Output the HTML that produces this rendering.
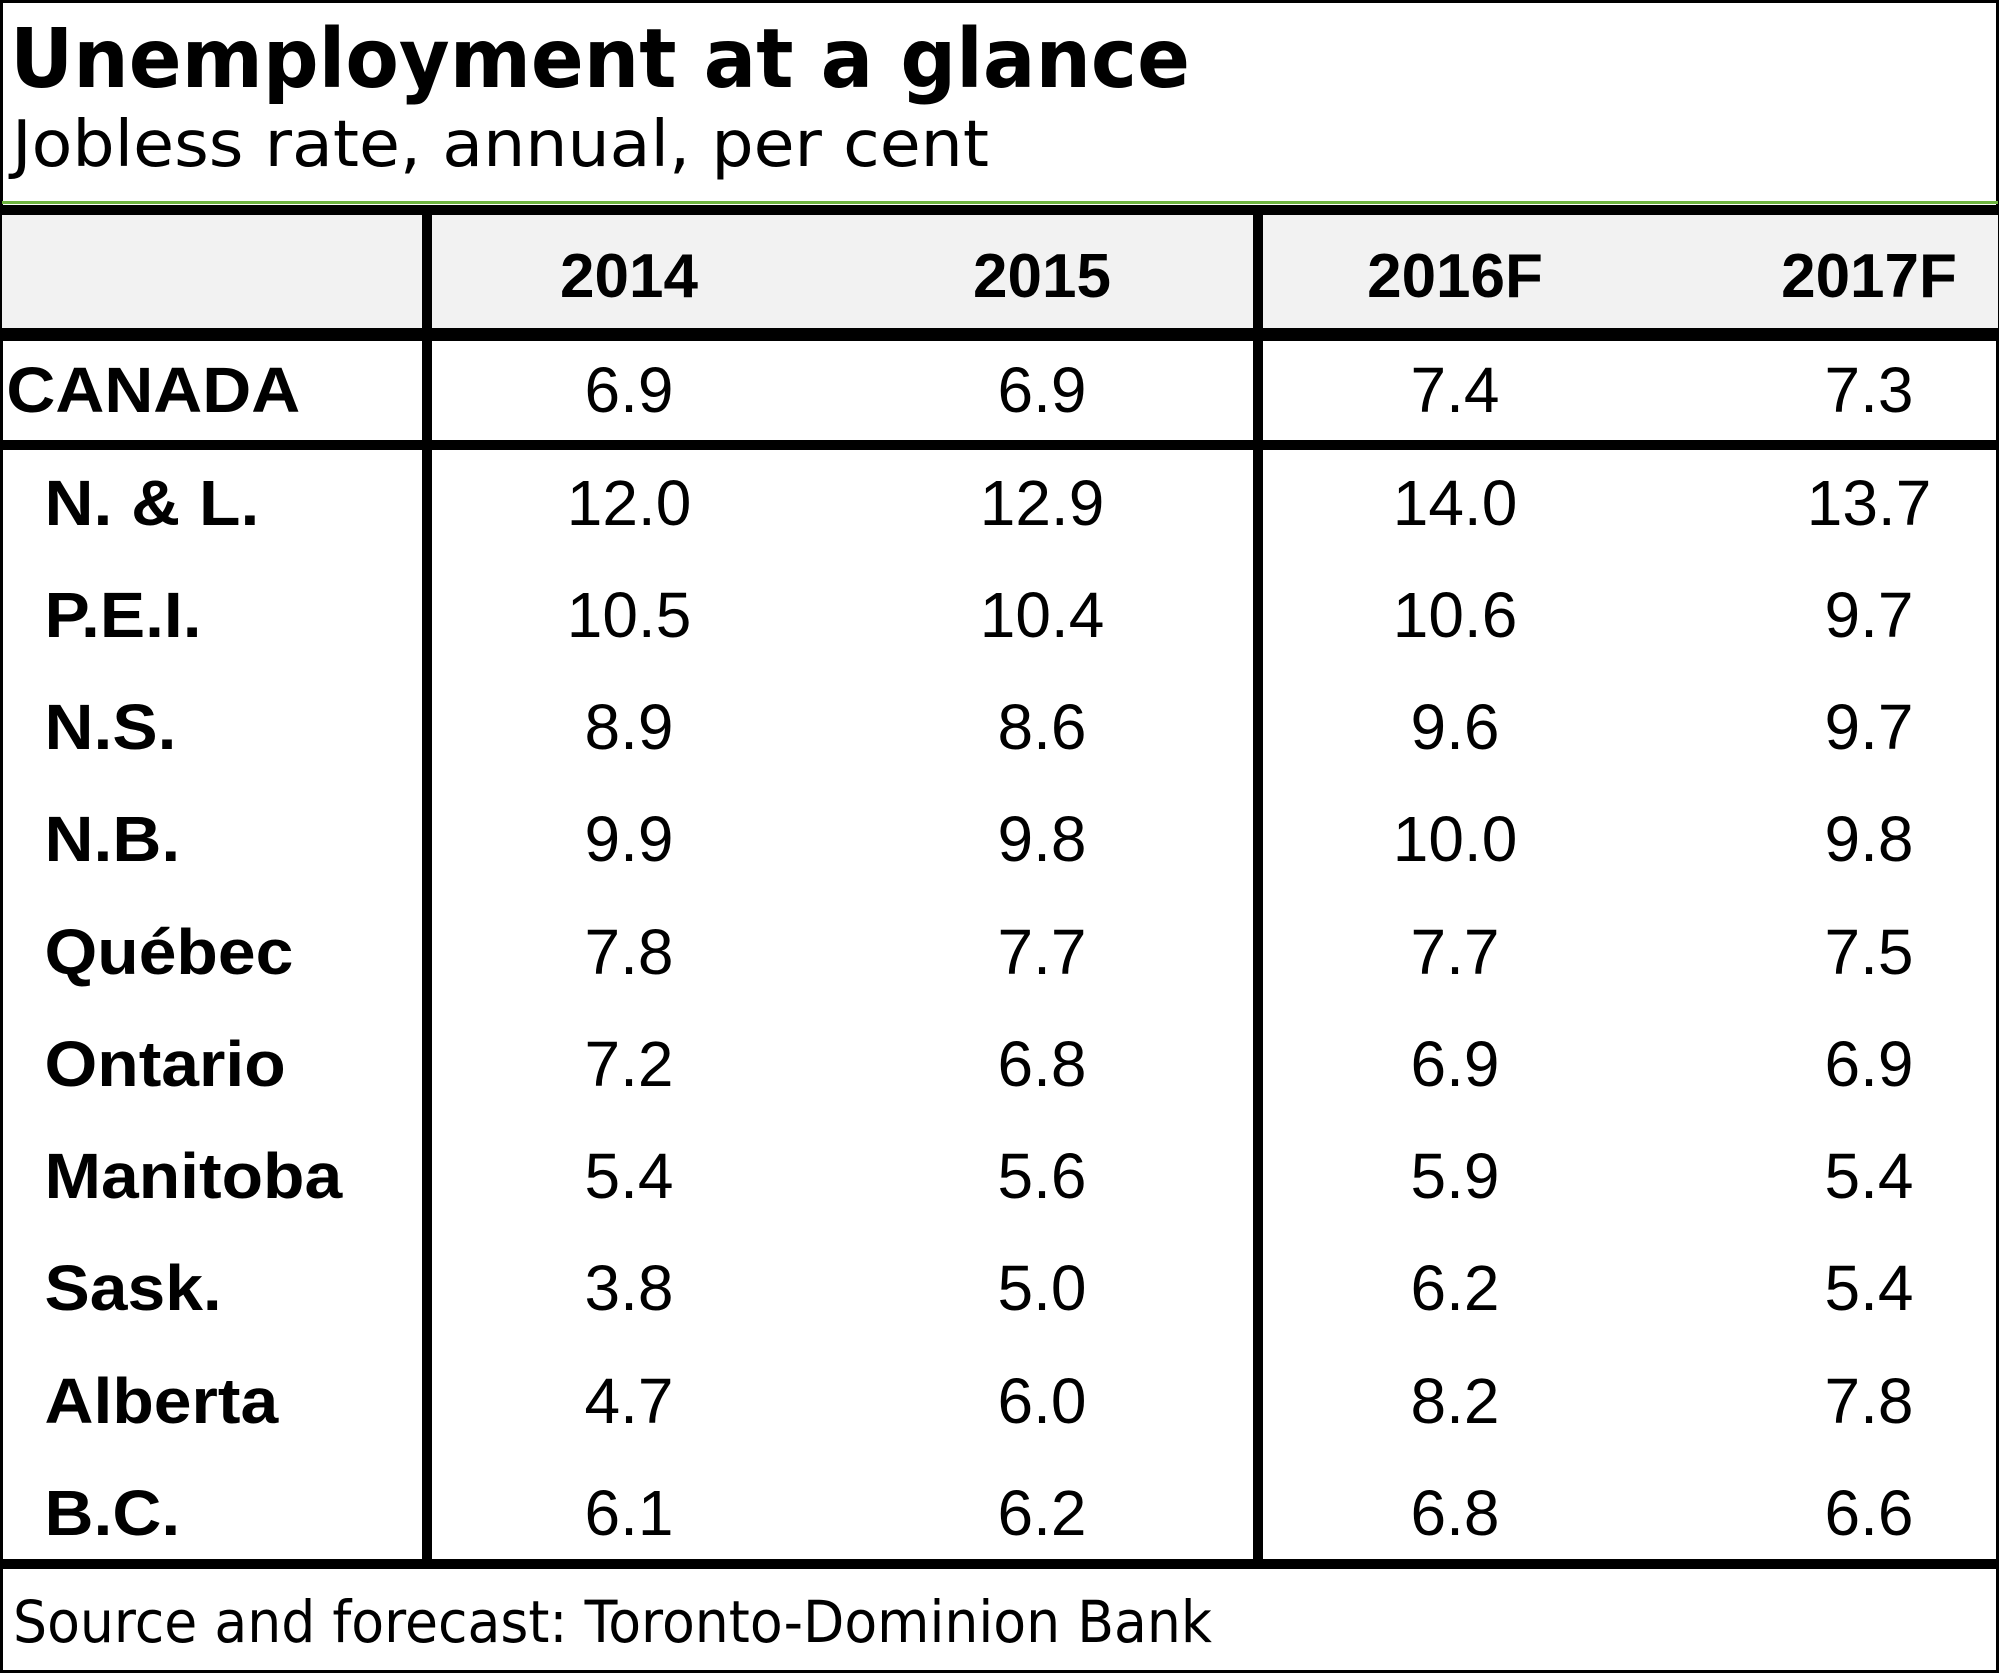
<!DOCTYPE html>
<html><head><meta charset="utf-8"><style>html,body{margin:0;padding:0;background:#fff}svg{display:block}</style></head>
<body>
<svg width="2000" height="1674" viewBox="0 0 2000 1674" xmlns="http://www.w3.org/2000/svg">
<rect x="0" y="0" width="2000" height="1674" fill="#fff"/>
<rect x="1.5" y="1.5" width="1996" height="1670" fill="none" stroke="#000" stroke-width="3"/>
<text x="10" y="87" font-family="DejaVu Sans, Verdana, sans-serif" font-weight="bold" font-size="82" textLength="1180" lengthAdjust="spacingAndGlyphs">Unemployment at a glance</text>
<text x="12" y="166" font-family="DejaVu Sans, Verdana, sans-serif" font-size="64" textLength="977" lengthAdjust="spacingAndGlyphs">Jobless rate, annual, per cent</text>
<rect x="2" y="201" width="1996" height="3" fill="#6db33f"/>
<rect x="2" y="205" width="1996" height="10" fill="#000"/>
<rect x="2" y="215" width="1996" height="113" fill="#f2f2f2"/>
<rect x="2" y="328" width="1996" height="13" fill="#000"/>
<rect x="2" y="440" width="1996" height="10" fill="#000"/>
<rect x="2" y="1559" width="1996" height="10" fill="#000"/>
<rect x="422" y="205" width="10" height="1364" fill="#000"/>
<rect x="1253" y="205" width="10" height="1364" fill="#000"/>
<g font-family="Liberation Sans, Arial, sans-serif" font-size="62" text-anchor="middle" font-weight="bold">
<text x="629" y="297">2014</text><text x="1042" y="297">2015</text><text x="1455" y="297">2016F</text><text x="1869" y="297">2017F</text>
</g>
<g font-family="Liberation Sans, Arial, sans-serif" font-size="64" font-weight="bold" transform="scale(1.06,1)">
<text x="6" y="412">CANADA</text>
<text x="42" y="525">N. &amp; L.</text>
<text x="42" y="637">P.E.I.</text>
<text x="42" y="749">N.S.</text>
<text x="42" y="861">N.B.</text>
<text x="42" y="974">Québec</text>
<text x="42" y="1086">Ontario</text>
<text x="42" y="1198">Manitoba</text>
<text x="42" y="1310">Sask.</text>
<text x="42" y="1423">Alberta</text>
<text x="42" y="1535">B.C.</text>
</g>
<g font-family="Liberation Sans, Arial, sans-serif" font-size="64" text-anchor="middle">
<text x="629" y="412">6.9</text><text x="1042" y="412">6.9</text><text x="1455" y="412">7.4</text><text x="1869" y="412">7.3</text>
<text x="629" y="525">12.0</text><text x="1042" y="525">12.9</text><text x="1455" y="525">14.0</text><text x="1869" y="525">13.7</text>
<text x="629" y="637">10.5</text><text x="1042" y="637">10.4</text><text x="1455" y="637">10.6</text><text x="1869" y="637">9.7</text>
<text x="629" y="749">8.9</text><text x="1042" y="749">8.6</text><text x="1455" y="749">9.6</text><text x="1869" y="749">9.7</text>
<text x="629" y="861">9.9</text><text x="1042" y="861">9.8</text><text x="1455" y="861">10.0</text><text x="1869" y="861">9.8</text>
<text x="629" y="974">7.8</text><text x="1042" y="974">7.7</text><text x="1455" y="974">7.7</text><text x="1869" y="974">7.5</text>
<text x="629" y="1086">7.2</text><text x="1042" y="1086">6.8</text><text x="1455" y="1086">6.9</text><text x="1869" y="1086">6.9</text>
<text x="629" y="1198">5.4</text><text x="1042" y="1198">5.6</text><text x="1455" y="1198">5.9</text><text x="1869" y="1198">5.4</text>
<text x="629" y="1310">3.8</text><text x="1042" y="1310">5.0</text><text x="1455" y="1310">6.2</text><text x="1869" y="1310">5.4</text>
<text x="629" y="1423">4.7</text><text x="1042" y="1423">6.0</text><text x="1455" y="1423">8.2</text><text x="1869" y="1423">7.8</text>
<text x="629" y="1535">6.1</text><text x="1042" y="1535">6.2</text><text x="1455" y="1535">6.8</text><text x="1869" y="1535">6.6</text>
</g>
<text x="13" y="1642" font-family="DejaVu Sans, Verdana, sans-serif" font-size="58" textLength="1199" lengthAdjust="spacingAndGlyphs">Source and forecast: Toronto-Dominion Bank</text>
</svg>
</body></html>
